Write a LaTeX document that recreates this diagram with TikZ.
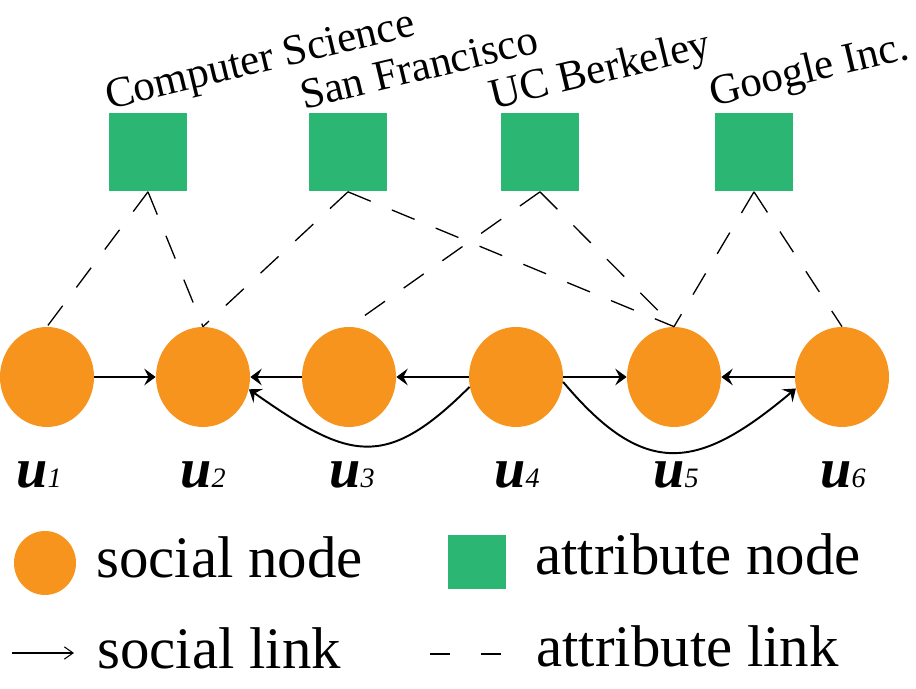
\documentclass[tikz,border=0pt]{standalone}
\usepackage{fontspec}
\setmainfont{Liberation Serif}
\usetikzlibrary{positioning,shapes.geometric,arrows.meta}
\definecolor{socialorange}{HTML}{F7941D}
\definecolor{attrgreen}{HTML}{2CB673}
\newcommand{\ulab}[1]{{\bfseries u}{\fontsize{16}{18}\selectfont #1}}
\tikzset{ %inner sep = 0pt,
  >={Stealth[length=6.5pt,width=9.5pt,inset=2.5pt]},
  social/.style={ellipse,fill=socialorange,inner sep=0,minimum width=1.88cm,minimum height=2cm},
  attr/.style={rectangle,fill=attrgreen,inner sep=0,minimum size=1.56cm},
  {attr label/.style}={anchor=base west,rotate=13.5,inner sep=0,font=\fontsize{24.5}{30}\selectfont},
  ulabel/.style={anchor=base,inner sep=0,font=\fontsize{32}{40}\selectfont\itshape},
  legend/.style={anchor=base west,inner sep=0,font=\fontsize{33.5}{40}\selectfont},
  {slink/.style}={draw,->,line width=1.1pt},
  {alink/.style}={draw,line width=0.75pt,dash pattern=on 14pt off 13pt},
 }
\begin{document}
\begin{tikzpicture}[x=0.02cm,y=0.02cm]
        \useasboundingbox (0,0) rectangle (916,689);
        % social nodes
        \node[social] (u1) at (47,312) {};
        \node[social] (u2) at (203,312) {};
        \node[social] (u3) at (349,312) {};
        \node[social] (u4) at (516,312) {};
        \node[social] (u5) at (674,312) {};
        \node[social] (u6) at (842,312) {};
        \foreach \n/\dx in {1/-8,2/0,3/3,4/1,5/2,6/1}
                \node[ulabel] (l\n) at ([xshift=\dx*0.02cm,yshift=-2.22cm]u\n) {\ulab{\n}};
        % attribute nodes
        \node[attr] (cs) at (148,536.5) {};
        \node[attr] (sf) at (348,536.5) {};
        \node[attr] (ucb) at (540,536.5) {};
        \node[attr] (gi) at (754,536.5) {};
        \node[attr label] at ([yshift=0.08cm]cs.north west) {Computer Science};
        \node[attr label] at ([xshift=-0.1cm,yshift=0.08cm]sf.north west) {San Francisco};
        \node[attr label] at ([xshift=-0.16cm,yshift=0.08cm]ucb.north west) {UC Berkeley};
        \node[attr label] at ([xshift=-0.04cm,yshift=0.14cm]gi.north west) {Google Inc.};
        % attribute links
        \path[alink] (cs.south) edge (u1.north) edge (u2.north);
        \path[alink] (sf.south) edge (u2.north) edge (u5.north);
        \path[alink] (ucb.south) edge (u3.north) edge (u5.north);
        \path[alink] (gi.south) edge (u5.north) edge (u6.north);
        % social links
        \path[slink] (u1) edge (u2)
                (u3) edge (u2)
                (u4) edge (u3)
                edge (u5)
                (u6) edge (u5);
        \draw[slink] (u4.192) to[out=225,in=-35,looseness=1.4] (u2.-15);
        \draw[slink] (u4.-6) to[out=-50,in=-140,looseness=1.4] (u6.194);
        % legend
        \node[social,minimum width=1.24cm,minimum height=1.28cm] (lsoc) at (45,126) {};
        \node[legend] (tsoc) at (96,111) {social node};
        \node[attr,minimum width=1.16cm,minimum height=1.1cm] (lattr) at (477,127) {};
        \node[legend] (tattr) at (535,114) {attribute node};
        \coordinate (arrs) at (12,36);
        \coordinate (arre) at (74,36);
        \draw[-{Straight Barb[length=5pt,width=7pt]},line width=0.6pt] (arrs) -- (arre);
        \node[legend] (tslink) at (97,20) {social link};
        \coordinate (dashs) at (430,35);
        \coordinate (dashe) at (502,35);
        \draw[line width=0.75pt,dash pattern=on 11.3pt off 18pt] (dashs) -- (dashe);
        \node[legend] (talink) at (536,22) {attribute link};
\end{tikzpicture}
\end{document}
